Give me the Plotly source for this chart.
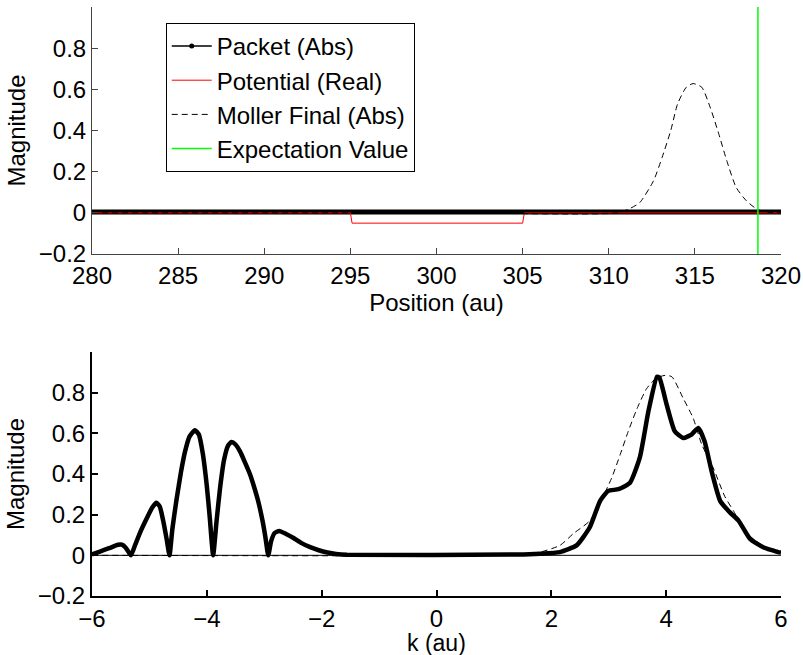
import plotly.graph_objects as go

# ---------------- data ----------------
# Top panel: position space
pos_range = [280, 320]
packet_x = [280, 320]
packet_y = [0.004, 0.004]

potential_x = [280, 295, 295.1, 305, 305.1, 320]
potential_y = [0, 0, -0.05, -0.05, 0, 0]

moller_x = [280, 300, 310.5, 311.2, 311.8, 312.6, 313.1, 313.6, 314.0, 314.5, 314.9,
            315.4, 315.9, 316.4, 316.85, 317.4, 318.0, 318.6, 319.2, 320]
moller_y = [0, 0, 0.0, 0.02, 0.05, 0.156, 0.27, 0.40, 0.53, 0.61, 0.628,
            0.61, 0.51, 0.38, 0.254, 0.123, 0.058, 0.018, 0.003, 0]

expect_x = 318.66

# Bottom panel: k space
k_range = [-6, 6]
pk_k = [-6.0, -5.85, -5.7, -5.55, -5.48, -5.42, -5.36, -5.32,
        -5.25, -5.15, -5.05, -4.95, -4.88, -4.82, -4.76, -4.70, -4.65,
        -4.60, -4.53, -4.45, -4.38, -4.30, -4.21, -4.14, -4.07, -4.00, -3.95, -3.89,
        -3.83, -3.77, -3.70, -3.63, -3.57, -3.50, -3.42, -3.34, -3.25, -3.17, -3.10,
        -3.03, -2.98, -2.93,
        -2.88, -2.82, -2.74, -2.62, -2.49, -2.35, -2.20, -2.05, -1.90, -1.75, -1.56,
        1.40, 1.80, 2.15, 2.44, 2.67, 2.85, 2.99, 3.17, 3.37, 3.54, 3.69, 3.84, 3.88,
        4.01, 4.15, 4.30, 4.44, 4.56, 4.67, 4.79, 4.94, 5.11, 5.26, 5.46, 5.69, 5.95, 6.0]
pk_v = [0.005, 0.02, 0.035, 0.052, 0.053, 0.04, 0.015, 0.0,
        0.05, 0.12, 0.18, 0.235, 0.258, 0.24, 0.17, 0.08, 0.0,
        0.13, 0.27, 0.41, 0.51, 0.585, 0.615, 0.595, 0.50, 0.34, 0.19, 0.0,
        0.17, 0.33, 0.47, 0.54, 0.557, 0.545, 0.51, 0.46, 0.40, 0.33, 0.26,
        0.17, 0.09, 0.0,
        0.07, 0.11, 0.12, 0.105, 0.085, 0.06, 0.04, 0.025, 0.014, 0.007, 0.003,
        0.004, 0.008, 0.016, 0.049, 0.138, 0.268, 0.317, 0.325, 0.357, 0.48, 0.707, 0.878, 0.875,
        0.74, 0.61, 0.577, 0.594, 0.626, 0.56, 0.415, 0.268, 0.211, 0.171, 0.081, 0.04, 0.016, 0.014]

mk_k = [-6.0, 1.2, 1.7, 2.15, 2.38, 2.67, 2.88, 3.05, 3.20, 3.34, 3.49, 3.66, 3.82, 3.98,
        4.10, 4.30, 4.47, 4.62, 4.82, 5.02, 5.17, 5.40, 5.70, 6.0]
mk_v = [0.0, 0.0, 0.008, 0.049, 0.106, 0.17, 0.277, 0.38, 0.496, 0.61, 0.72, 0.82, 0.87, 0.885,
        0.878, 0.77, 0.675, 0.545, 0.43, 0.29, 0.22, 0.11, 0.045, 0.015]

zero_k = [-6, 6]
zero_v = [0, 0]

y_ticks = [-0.2, 0, 0.2, 0.4, 0.6, 0.8]
y_tick_text = ["\u22120.2", "0", "0.2", "0.4", "0.6", "0.8"]
pos_ticks = [280, 285, 290, 295, 300, 305, 310, 315, 320]
k_ticks = [-6, -4, -2, 0, 2, 4, 6]
k_tick_text = ["\u22126", "\u22124", "\u22122", "0", "2", "4", "6"]

# ---------------- figure ----------------
FONT = "Liberation Sans, Arial, Helvetica, sans-serif"
FS = 24
fig = go.Figure()

# Top panel traces
fig.add_trace(go.Scatter(x=packet_x, y=packet_y, mode="lines", showlegend=False,
                         line=dict(color="black", width=5), xaxis="x", yaxis="y"))
fig.add_trace(go.Scatter(x=[None], y=[None], mode="lines+markers", name="Packet (Abs)",
                         line=dict(color="black", width=1.5), marker=dict(color="black", size=5),
                         legendgroup="a", xaxis="x", yaxis="y"))
fig.add_trace(go.Scatter(x=potential_x, y=potential_y, mode="lines", name="Potential (Real)",
                         line=dict(color="#ff0000", width=1), legendgroup="b", xaxis="x", yaxis="y"))
fig.add_trace(go.Scatter(x=moller_x, y=moller_y, mode="lines", name="Moller Final (Abs)",
                         line=dict(color="black", width=1, dash="6px,4px", shape="spline", smoothing=0.6),
                         legendgroup="c", xaxis="x", yaxis="y"))
fig.add_trace(go.Scatter(x=[expect_x, expect_x], y=[-0.2, 1.0], mode="lines", name="Expectation Value",
                         line=dict(color="#00ff00", width=1.5), legendgroup="d", xaxis="x", yaxis="y"))

# Bottom panel traces
fig.add_trace(go.Scatter(x=zero_k, y=zero_v, mode="lines", showlegend=False,
                         line=dict(color="black", width=1), xaxis="x2", yaxis="y2"))
fig.add_trace(go.Scatter(x=mk_k, y=mk_v, mode="lines", showlegend=False,
                         line=dict(color="black", width=1, dash="6px,4px", shape="spline", smoothing=0.6),
                         xaxis="x2", yaxis="y2"))
fig.add_trace(go.Scatter(x=pk_k, y=pk_v, mode="lines", showlegend=False,
                         line=dict(color="black", width=4.5, shape="spline", smoothing=0.5),
                         xaxis="x2", yaxis="y2"))

axis_common = dict(showgrid=False, zeroline=False, ticks="inside", ticklen=6,
                   tickfont=dict(size=FS, color="black", family=FONT), showline=True,
                   mirror=False, automargin=False)

fig.update_layout(
    width=803, height=655,
    margin=dict(l=92, r=22, t=7, b=59),
    paper_bgcolor="white", plot_bgcolor="white",
    font=dict(family=FONT, color="black", size=FS),
    showlegend=True,
    legend=dict(x=0.107, y=0.973, xanchor="left", yanchor="top",
                bordercolor="black", borderwidth=1, bgcolor="white",
                font=dict(size=FS, family=FONT, color="black"), tracegroupgap=0,
                itemwidth=40),
    xaxis=dict(axis_common, domain=[0, 1], anchor="y", range=pos_range, tickvals=pos_ticks,
               linecolor="#444", tickcolor="#444",
               title=dict(text="Position (au)", font=dict(size=FS), standoff=0)),
    yaxis=dict(axis_common, domain=[0.5806, 1], anchor="x", range=[-0.2, 1.0],
               tickvals=y_ticks, ticktext=y_tick_text, linecolor="#444", tickcolor="#444",
               title=dict(text="Magnitude", font=dict(size=FS), standoff=6)),
    xaxis2=dict(axis_common, domain=[0, 1], anchor="y2", range=k_range, tickvals=k_ticks,
                ticktext=k_tick_text, linecolor="black", tickcolor="black", linewidth=2, tickwidth=2),
    yaxis2=dict(axis_common, domain=[0, 0.4143], anchor="x2", range=[-0.2, 1.0],
                tickvals=y_ticks, ticktext=y_tick_text, linecolor="black", tickcolor="black",
                linewidth=2, tickwidth=2,
                title=dict(text="Magnitude", font=dict(size=FS), standoff=6)),
    annotations=[dict(text="k (au)", xref="paper", yref="paper", x=0.5, y=0,
                      xanchor="center", yanchor="top", yshift=-32, showarrow=False,
                      font=dict(size=23, family=FONT, color="black"))],
)

fig.write_html("out.html")
